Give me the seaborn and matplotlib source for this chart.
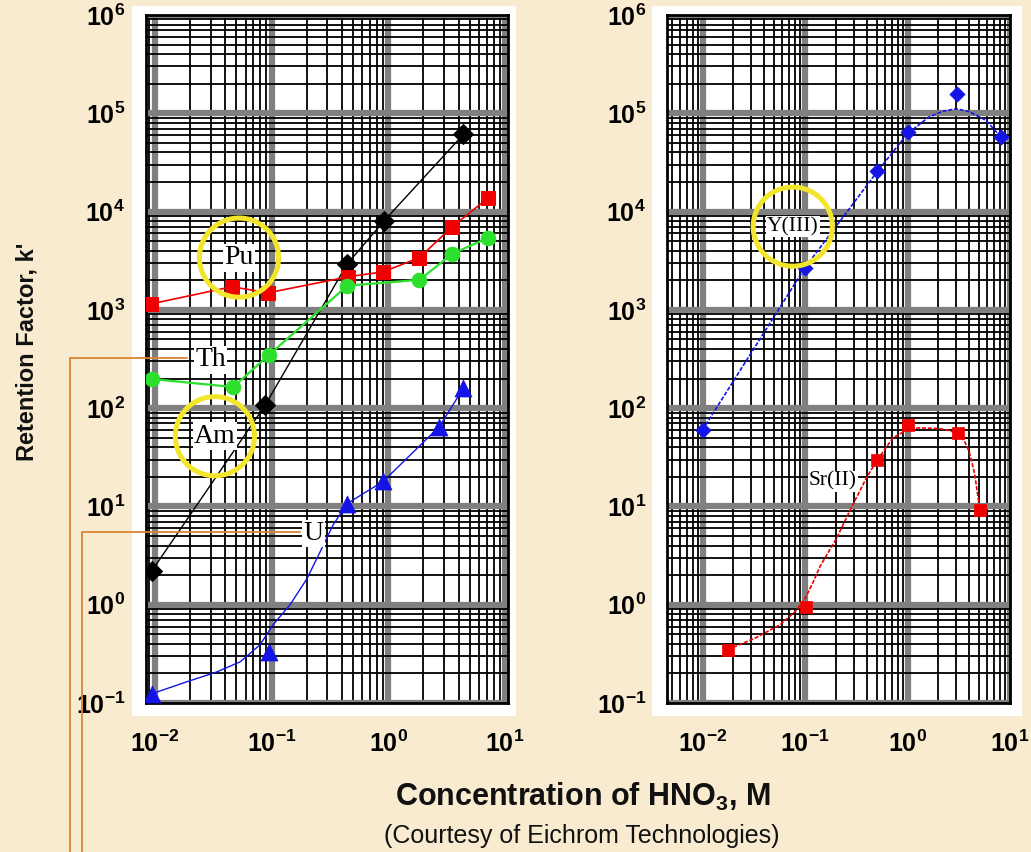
import numpy as np
import pandas as pd
import matplotlib
matplotlib.use("Agg")
import matplotlib.pyplot as plt
import seaborn as sns
from matplotlib.ticker import LogLocator, FuncFormatter, NullFormatter
from matplotlib.lines import Line2D
from matplotlib.patches import Rectangle

# ---------------- data: retention factor k' vs HNO3 molarity ----------------
# Left panel (actinides)
am_hno3 = [0.0094, 0.088, 0.445, 0.925, 4.4]
am_k = [2.2, 107, 2940, 8100, 61000]

pu_hno3 = [0.0093, 0.0458, 0.093, 0.454, 0.906, 1.85, 3.54, 7.08]
pu_k = [1150, 1720, 1490, 2170, 2440, 3400, 7030, 13600]

th_hno3 = [0.0094, 0.047, 0.095, 0.445, 1.85, 3.54, 7.2]
th_k = [198, 164, 348, 1760, 2020, 3720, 5430]

u_hno3 = [0.0094, 0.095, 0.445, 0.906, 2.74, 4.4]
u_k = [0.124, 0.33, 10.7, 18, 65, 160]
u_fit_hno3 = [0.0094, 0.0187, 0.0339, 0.0537, 0.0796, 0.103, 0.144, 0.201,
              0.261, 0.337, 0.445, 0.906, 2.74, 4.4]
u_fit_k = [0.124, 0.164, 0.207, 0.262, 0.391, 0.625, 1.0, 1.84,
           3.47, 6.5, 10.7, 18, 65, 160]

# Right panel (Y and Sr)
y_hno3 = [0.01, 0.1, 0.508, 1.0, 3.03, 8.1]
y_k = [60, 2690, 25600, 64000, 156000, 58000]
y_fit_hno3 = [0.01, 0.1, 0.508, 1.0, 1.6, 2.2, 3.0, 4.0, 5.8, 8.1]
y_fit_k = [60, 2690, 25600, 62000, 91000, 105000, 111000, 104000, 85000, 58000]

sr_hno3 = [0.0176, 0.102, 0.504, 1.0, 3.13, 5.08]
sr_k = [0.35, 0.955, 29.5, 67, 56, 9.3]
sr_fit_hno3 = [0.0176, 0.0316, 0.0571, 0.08, 0.1, 0.12, 0.14, 0.203, 0.294, 0.397,
               0.504, 0.72, 1.0, 1.31, 2.05, 2.6, 3.13, 3.6, 4.0, 4.5, 5.08]
sr_fit_k = [0.35, 0.45, 0.625, 0.85, 1.15, 1.7, 2.45, 4.75, 10.5, 19.5,
            29.5, 49.8, 60.5, 63, 62, 59, 54, 46, 36, 22, 9.3]

# element labels (text, x, y, circled)
left_labels = [("Pu", 0.0526, 3400, True), ("Th", 0.030, 309, False),
               ("Am", 0.0327, 51.8, True), ("U", 0.227, 5.3, False)]
right_labels = [("Y(III)", 0.0759, 7030, True), ("Sr(II)", 0.187, 18, False)]

tick_exponents = list(range(-1, 7))

# ---------------- style ----------------
BG = "#F9EBD0"
YELLOW = "#F2E52B"
ORANGE = "#D98434"
RED = "#F00000"
GREEN = "#2EE02E"
BLUE = "#1414E6"

sns.set_theme(style="white")
plt.rcParams["font.family"] = ["Liberation Sans", "DejaVu Sans"]
plt.rcParams["mathtext.fontset"] = "custom"
plt.rcParams["mathtext.rm"] = "Liberation Sans"
plt.rcParams["mathtext.bf"] = "Liberation Sans:bold"

W, H = 1031, 852
fig = plt.figure(figsize=(W / 100, H / 100), dpi=100, facecolor=BG)

def fx(px):
    return px / W

def fy(py):
    return 1 - py / H

# white backing boards behind each panel
for x0, x1 in [(132, 516), (652, 1022)]:
    fig.add_artist(Rectangle((fx(x0), fy(716)), fx(x1) - fx(x0), fy(6) - fy(716),
                             transform=fig.transFigure, facecolor="white",
                             edgecolor="none", zorder=0))

axL = fig.add_axes([fx(146), fy(703), fx(508) - fx(146), fy(15) - fy(703)])
axR = fig.add_axes([fx(667), fy(703), fx(1010) - fx(667), fy(15) - fy(703)])

sup = FuncFormatter(lambda v, p: r"$\mathbf{10^{%d}}$" % int(round(np.log10(v))))

for ax, xlim in [(axL, (0.0084, 10.6)), (axR, (0.0045, 10.0))]:
    ax.set_facecolor("white")
    ax.set_xscale("log")
    ax.set_yscale("log")
    ax.set_yticks([10.0 ** e for e in tick_exponents])
    ax.set_xticks([10.0 ** e for e in range(-2, 2)])
    ax.xaxis.set_minor_locator(LogLocator(base=10, subs=np.arange(2, 10), numticks=30))
    ax.yaxis.set_minor_locator(LogLocator(base=10, subs=np.arange(2, 10), numticks=30))
    ax.xaxis.set_major_formatter(sup)
    ax.yaxis.set_major_formatter(sup)
    ax.xaxis.set_minor_formatter(NullFormatter())
    ax.yaxis.set_minor_formatter(NullFormatter())
    ax.set_xlim(*xlim)
    ax.set_ylim(0.1, 1e6)
    # heavy grey band on each decade with a black ruling on top, black minor rulings
    ax.grid(which="major", color="0.5", lw=4.5, zorder=0)
    ax.grid(which="minor", color="black", lw=1.3, zorder=0)
    dec_x = [10.0 ** e for e in range(-2, 2) if xlim[0] <= 10.0 ** e <= xlim[1]]
    dec_y = [10.0 ** e for e in tick_exponents]
    ax.vlines(dec_x, 0, 1, transform=ax.get_xaxis_transform(), color="black", lw=1.2, zorder=0.5)
    ax.hlines(dec_y, 0, 1, transform=ax.get_yaxis_transform(), color="black", lw=1.2, zorder=0.5)
    ax.set_axisbelow(True)
    for s in ax.spines.values():
        s.set_color("black")
        s.set_linewidth(2)
    ax.tick_params(which="major", direction="out", length=9, width=1.6, color="black",
                   labelcolor="black")
    ax.tick_params(which="minor", direction="inout", length=7, width=1.1, color="black")
    ax.tick_params(axis="y", which="major", labelsize=18, pad=6)
    ax.tick_params(axis="x", which="major", labelsize=18, pad=11)
    ax.tick_params(axis="y", which="minor", direction="out", length=5)

# ---------------- left panel series ----------------
sns.lineplot(x=am_hno3, y=am_k, ax=axL, color="black", lw=1.0, marker="D",
             markersize=10, markeredgecolor="black", estimator=None, sort=False, zorder=3)
sns.lineplot(x=pu_hno3, y=pu_k, ax=axL, color=RED, lw=1.2, marker="s",
             markersize=10.5, markeredgecolor=RED, estimator=None, sort=False, zorder=3)
sns.lineplot(x=th_hno3, y=th_k, ax=axL, color=GREEN, lw=1.6, marker="o",
             markersize=10.5, markeredgecolor=GREEN, estimator=None, sort=False, zorder=3)
sns.lineplot(x=u_fit_hno3, y=u_fit_k, ax=axL, color=BLUE, lw=1.0,
             estimator=None, sort=False, zorder=3)
sns.scatterplot(x=u_hno3, y=u_k, ax=axL, color=BLUE, marker="^", s=150,
                edgecolor=BLUE, linewidth=0.5, zorder=4)

# ---------------- right panel series ----------------
sns.lineplot(x=y_fit_hno3, y=y_fit_k, ax=axR, color=BLUE, lw=1.2,
             linestyle=(0, (2.5, 1)), estimator=None, sort=False, zorder=3)
sns.scatterplot(x=y_hno3, y=y_k, ax=axR, color=BLUE, marker="D", s=60,
                edgecolor=BLUE, linewidth=0.5, zorder=4)
sns.lineplot(x=sr_fit_hno3, y=sr_fit_k, ax=axR, color=RED, lw=1.2,
             linestyle=(0, (2.5, 1)), estimator=None, sort=False, zorder=3)
sns.scatterplot(x=sr_hno3, y=sr_k, ax=axR, color=RED, marker="s", s=80,
                edgecolor=RED, linewidth=0.5, zorder=4)

# ---------------- element labels ----------------
for ax, labels, fsize in [(axL, left_labels, 20), (axR, right_labels, 15.5)]:
    for text, lx, ly, circled in labels:
        ax.text(lx, ly, text, ha="center", va="center", fontsize=fsize,
                family=["Liberation Serif", "DejaVu Serif"], color="black", zorder=6,
                bbox=dict(boxstyle="square,pad=0.05", facecolor="white", edgecolor="none"))
        if circled:
            ax.scatter([lx], [ly], s=57 ** 2, facecolors="none", edgecolors=YELLOW,
                       linewidths=3.6, zorder=7)
    ax.set_xlabel("")
    ax.set_ylabel("")
    legend = ax.get_legend()
    if legend is not None:
        legend.remove()

# leader lines running off the bottom of the page from the Th and U labels
for xs_px, ys_px in [([187, 70, 70], [358, 358, 852]), ([300, 82, 82], [532, 532, 852])]:
    fig.add_artist(Line2D([fx(v) for v in xs_px], [fy(v) for v in ys_px],
                          transform=fig.transFigure, color=ORANGE, lw=1.3, zorder=8))

# ---------------- figure text ----------------
fig.text(fx(27), fy(352), "Retention Factor, k'", rotation=90, ha="center", va="center",
         fontsize=17, fontweight="bold", color="#111111")
fig.text(fx(583), fy(797), r"Concentration of HNO$_{\mathbf{3}}$, M", ha="center", va="center",
         fontsize=22, fontweight="bold", color="#111111")
fig.text(fx(582), fy(836), "(Courtesy of Eichrom Technologies)", ha="center", va="center",
         fontsize=18, color="#111111")

fig.savefig("out.png", dpi=100, facecolor=BG)
